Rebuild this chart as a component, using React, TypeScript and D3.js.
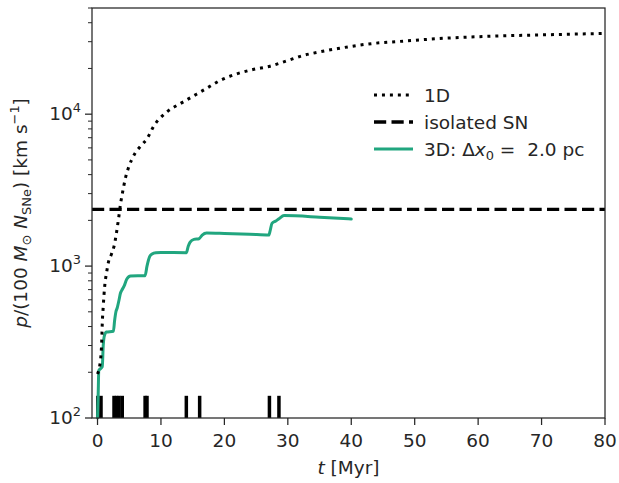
import React from 'react';
import * as d3 from 'd3';

// 1D model momentum
const T_1D = [0, 0.5, 0.66, 0.75, 0.9, 1.0, 1.1, 1.45, 1.7, 2.2, 2.6, 3.3, 3.65, 3.9, 4.45, 4.85, 5.9, 6.8, 7.75, 9.05, 9.95, 11.0, 13.25, 15.6, 16.9, 19.2, 21.8, 24.5, 27.2, 29.8, 32.4, 35.0, 37.9, 43.4, 48.7, 53.9, 61.8, 69.7, 80];
const P_1D = [195, 247, 318, 420, 540, 628, 713, 918, 1052, 1199, 1350, 2028, 2606, 2977, 3873, 4400, 5520, 6156, 6850, 8590, 9500, 10400, 11870, 13540, 14550, 16570, 18330, 19680, 20700, 22420, 24330, 25700, 27050, 29200, 30350, 31470, 32580, 33240, 34000];

// 3D run (dx0 = 2.0 pc)
const T_3D = [0, 0.1, 0.2, 0.5, 0.75, 0.9, 1.1, 1.4, 2.5, 2.7, 2.9, 3.1, 3.4, 3.6, 3.8, 4.2, 4.6, 5.2, 7.5, 7.8, 8.2, 8.6, 9.2, 10, 14.0, 14.3, 14.6, 15.2, 16.0, 16.5, 17.2, 20, 24, 27.0, 27.2, 27.5, 28.1, 28.6, 29.4, 35, 40];
const P_3D = [100, 140, 205, 212, 218, 300, 350, 368, 372, 440, 500, 530, 600, 660, 690, 740, 820, 860, 865, 1000, 1150, 1200, 1225, 1230, 1225, 1350, 1440, 1500, 1515, 1600, 1650, 1640, 1620, 1600, 1700, 1910, 1980, 2050, 2150, 2100, 2040];

const ISOLATED_SN = 2360;
const SN_TIMES = [0.05, 0.55, 2.6, 3.0, 3.4, 3.9, 7.5, 7.8, 14.0, 16.1, 27.1, 28.6];
const RUG_TOP = 140;

const X_TICKS = [0, 10, 20, 30, 40, 50, 60, 70, 80];
const Y_MAJOR = [100, 1000, 10000];
const Y_EXP = ['2', '3', '4'];
const LEGEND_LABELS = ['1D', 'isolated SN'];

const TXT = '#262626';
const GREEN = '#21a67f';
const FONT = 'DejaVu Sans';
const FS = 18.5;

export default function App() {
  const x = d3.scaleLinear().domain([-0.87, 80]).range([92, 605]);
  const y = d3.scaleLog().domain([100, 50000]).range([418, 8]);
  const [x0, x1] = x.range();
  const [yb, yt] = y.range();

  const line = d3
    .line<[number, number]>()
    .x((d) => x(d[0]))
    .y((d) => y(d[1]))
    .curve(d3.curveMonotoneX);

  const d1 = line(T_1D.map((t, i) => [t, P_1D[i]]));
  const d3d = line(T_3D.map((t, i) => [t, P_3D[i]]));

  const minor: number[] = [];
  for (const base of Y_MAJOR) {
    for (let m = 2; m <= 9; m++) {
      const v = m * base;
      if (v <= 50000) minor.push(v);
    }
  }

  const lx0 = 374;
  const lx1 = 413;
  const ltx = 424;
  const rows = [95, 122, 149];
  const SUB = FS * 0.7;

  return (
    <div style={{ position: 'absolute', left: 0, top: 0 }}>
      <svg width={619} height={483} style={{ display: 'block', fontFamily: FONT }}>
        <rect width={619} height={483} fill="#fff" />
        {/* rug of SN times */}
        {SN_TIMES.map((t, i) => (
          <line key={i} x1={x(t)} x2={x(t)} y1={y(100)} y2={y(RUG_TOP)} stroke="#000" strokeWidth={3.5} />
        ))}
        {/* isolated SN */}
        <line x1={x0} x2={x1} y1={y(ISOLATED_SN)} y2={y(ISOLATED_SN)} stroke="#000" strokeWidth={3.3} strokeDasharray="12.2 5.3" />
        {/* 3D */}
        <path d={d3d ?? ''} fill="none" stroke={GREEN} strokeWidth={3} strokeLinejoin="round" strokeLinecap="round" />
        {/* 1D */}
        <path d={d1 ?? ''} fill="none" stroke="#000" strokeWidth={3} strokeDasharray="3 4.95" />

        {/* frame */}
        <rect x={x0} y={yt} width={x1 - x0} height={yb - yt} fill="none" stroke={TXT} strokeWidth={1.25} />

        {/* x ticks */}
        {X_TICKS.map((t) => (
          <g key={t}>
            <line x1={x(t)} x2={x(t)} y1={yb} y2={yb + 7} stroke={TXT} strokeWidth={1.25} />
            <text x={x(t)} y={yb + 29} textAnchor="middle" fontSize={FS} fill={TXT}>
              {t}
            </text>
          </g>
        ))}
        <text x={(x0 + x1) / 2} y={474} textAnchor="middle" fontSize={FS} fill={TXT}>
          <tspan fontStyle="italic">t</tspan> [Myr]
        </text>

        {/* y ticks */}
        {minor.map((v) => (
          <line key={v} x1={x0} x2={x0 - 4} y1={y(v)} y2={y(v)} stroke={TXT} strokeWidth={1} />
        ))}
        {Y_MAJOR.map((v, i) => (
          <g key={v}>
            <line x1={x0} x2={x0 - 7} y1={y(v)} y2={y(v)} stroke={TXT} strokeWidth={1.25} />
            <text x={x0 - 11} y={y(v) + 6} textAnchor="end" fontSize={FS} fill={TXT}>
              10
              <tspan fontSize={SUB} dy={-8}>
                {Y_EXP[i]}
              </tspan>
            </text>
          </g>
        ))}
        <text
          transform={`translate(27, ${(yt + yb) / 2}) rotate(-90)`}
          textAnchor="middle"
          fontSize={FS}
          fill={TXT}
        >
          <tspan fontStyle="italic">p</tspan>
          <tspan>/(100 </tspan>
          <tspan fontStyle="italic">M</tspan>
          <tspan fontSize={SUB} dy={4}>⊙</tspan>
          <tspan dy={-4}>{'\u00a0'}</tspan>
          <tspan fontStyle="italic">N</tspan>
          <tspan fontSize={SUB} dy={4}>SNe</tspan>
          <tspan dy={-4}>) [km s</tspan>
          <tspan fontSize={SUB} dy={-8}>−1</tspan>
          <tspan dy={8}>]</tspan>
        </text>

        {/* legend */}
        <line x1={lx0} x2={lx1} y1={rows[0]} y2={rows[0]} stroke="#000" strokeWidth={3} strokeDasharray="3 4.95" />
        <text x={ltx} y={rows[0] + 6.5} fontSize={FS} fill={TXT}>{LEGEND_LABELS[0]}</text>
        <line x1={lx0} x2={lx1} y1={rows[1]} y2={rows[1]} stroke="#000" strokeWidth={3.3} strokeDasharray="12.2 5.3" />
        <text x={ltx} y={rows[1] + 6.5} fontSize={FS} fill={TXT}>{LEGEND_LABELS[1]}</text>
        <line x1={lx0} x2={lx1} y1={rows[2]} y2={rows[2]} stroke={GREEN} strokeWidth={3} />
        <text x={ltx} y={rows[2] + 6.5} fontSize={FS} fill={TXT}>
          3D: Δ<tspan fontStyle="italic">x</tspan>
          <tspan fontSize={SUB} dy={4}>0</tspan>
          <tspan dy={-4}>{'\u00a0=\u00a0\u00a02.0 pc'}</tspan>
        </text>
      </svg>
    </div>
  );
}
